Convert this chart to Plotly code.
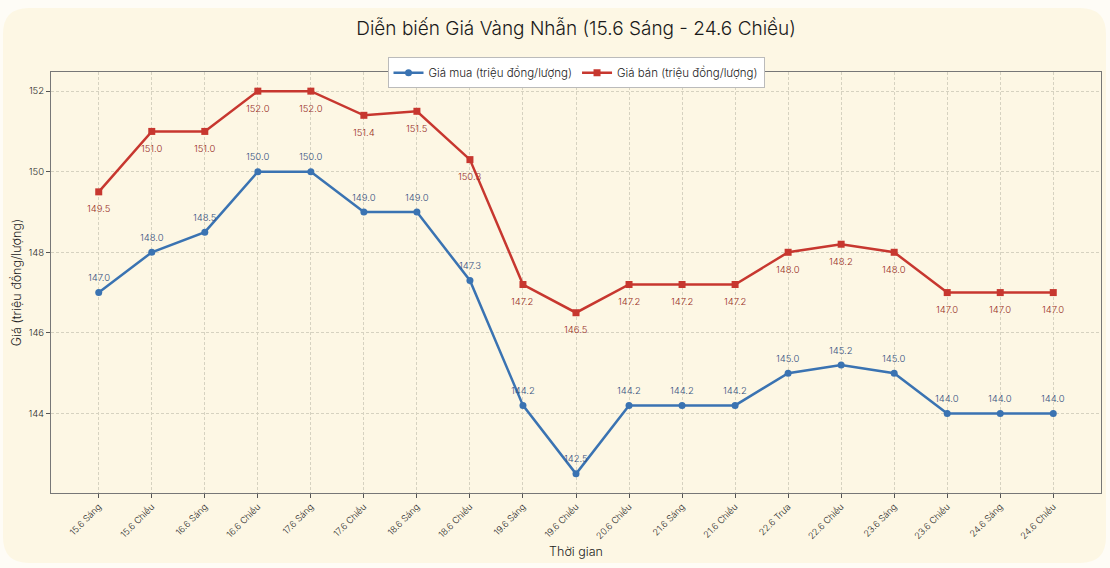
import plotly.graph_objects as go

categories = ["15.6 Sáng", "15.6 Chiều", "16.6 Sáng", "16.6 Chiều", "17.6 Sáng",
              "17.6 Chiều", "18.6 Sáng", "18.6 Chiều", "19.6 Sáng", "19.6 Chiều",
              "20.6 Chiều", "21.6 Sáng", "21.6 Chiều", "22.6 Trưa", "22.6 Chiều",
              "23.6 Sáng", "23.6 Chiều", "24.6 Sáng", "24.6 Chiều"]
buy = [147.0, 148.0, 148.5, 150.0, 150.0, 149.0, 149.0, 147.3, 144.2, 142.5,
       144.2, 144.2, 144.2, 145.0, 145.2, 145.0, 144.0, 144.0, 144.0]
sell = [149.5, 151.0, 151.0, 152.0, 152.0, 151.4, 151.5, 150.3, 147.2, 146.5,
        147.2, 147.2, 147.2, 148.0, 148.2, 148.0, 147.0, 147.0, 147.0]

FONT = "Inter"
BLUE = "#3a73b2"
RED = "#c7372f"
CARD = "#fdf7e4"
W, H = 1110, 568
ML, MR, MT, MB = 51, 9, 72, 75

fig = go.Figure()
x = list(range(len(categories)))
fig.add_trace(go.Scatter(x=x, y=buy, mode="lines+markers", name="Giá mua (triệu đồng/lượng)",
                         line=dict(color=BLUE, width=2.5), marker=dict(symbol="circle", size=7, color=BLUE)))
fig.add_trace(go.Scatter(x=x, y=sell, mode="lines+markers", name="Giá bán (triệu đồng/lượng)",
                         line=dict(color=RED, width=2.5), marker=dict(symbol="square", size=7, color=RED)))

ann = []
for i, v in enumerate(buy):
    ann.append(dict(x=i, y=v, text=f"{v:.1f}", showarrow=False, yshift=15,
                    font=dict(family=FONT, size=9.5, color="#34507f", weight=300)))
for i, v in enumerate(sell):
    ann.append(dict(x=i, y=v, text=f"{v:.1f}", showarrow=False, yshift=-17,
                    font=dict(family=FONT, size=9.5, color="#982e25", weight=300)))

# rounded card background (in paper coordinates)
pw, ph = W - ML - MR, H - MT - MB
def px(xp): return (xp - ML) / pw
def py(yp): return (H - MB - yp) / ph
x0, x1, y0, y1, r = 3, 1106, 8, 563, 26
path = (f"M {px(x0+r)} {py(y0)} L {px(x1-r)} {py(y0)} Q {px(x1)} {py(y0)} {px(x1)} {py(y0+r)} "
        f"L {px(x1)} {py(y1-r)} Q {px(x1)} {py(y1)} {px(x1-r)} {py(y1)} "
        f"L {px(x0+r)} {py(y1)} Q {px(x0)} {py(y1)} {px(x0)} {py(y1-r)} "
        f"L {px(x0)} {py(y0+r)} Q {px(x0)} {py(y0)} {px(x0+r)} {py(y0)} Z")

GRID = "#d6d2c0"
fig.update_layout(
    width=W, height=H,
    margin=dict(l=ML, r=MR, t=MT, b=MB),
    paper_bgcolor="#fefcf6", plot_bgcolor=CARD,
    shapes=[dict(type="path", xref="paper", yref="paper", path=path,
                 fillcolor=CARD, line=dict(width=0), layer="below")],
    annotations=ann,
    title=dict(text="Diễn biến Giá Vàng Nhẫn (15.6 Sáng - 24.6 Chiều)", x=0.519, xanchor="center",
               y=1 - 28 / H, yanchor="middle", font=dict(family=FONT, size=19, color="#1a1a1a", weight=300)),
    font=dict(family=FONT, color="#333"),
    legend=dict(orientation="h", x=0.5, xanchor="center", y=1.035, yanchor="top",
                bgcolor="white", bordercolor="#bbb", borderwidth=1,
                font=dict(family=FONT, size=11.5, color="#222", weight=300)),
    showlegend=True,
)
fig.update_xaxes(range=[-0.9, 18.9], tickmode="array", tickvals=x, ticktext=categories,
                 tickangle=-45, tickfont=dict(family=FONT, size=9, color="#2a2a2a", weight=300),
                 showgrid=True, gridcolor=GRID, griddash="3px,2px", gridwidth=0.8,
                 showline=True, linecolor="#777", linewidth=1, mirror=True,
                 ticks="outside", ticklen=4, tickcolor="#555", zeroline=False,
                 title=dict(text="Thời gian", font=dict(family=FONT, size=12.5, color="#222", weight=300), standoff=6))
fig.update_yaxes(range=[142.025, 152.475], tickvals=[144, 146, 148, 150, 152],
                 tickfont=dict(family=FONT, size=9.5, color="#2a2a2a", weight=300),
                 showgrid=True, gridcolor=GRID, griddash="3px,2px", gridwidth=0.8,
                 showline=True, linecolor="#777", linewidth=1, mirror=True,
                 ticks="outside", ticklen=4, tickcolor="#555", zeroline=False,
                 title=dict(text="Giá (triệu đồng/lượng)", font=dict(family=FONT, size=12.5, color="#222", weight=300), standoff=4))

fig.write_html("out.html")
